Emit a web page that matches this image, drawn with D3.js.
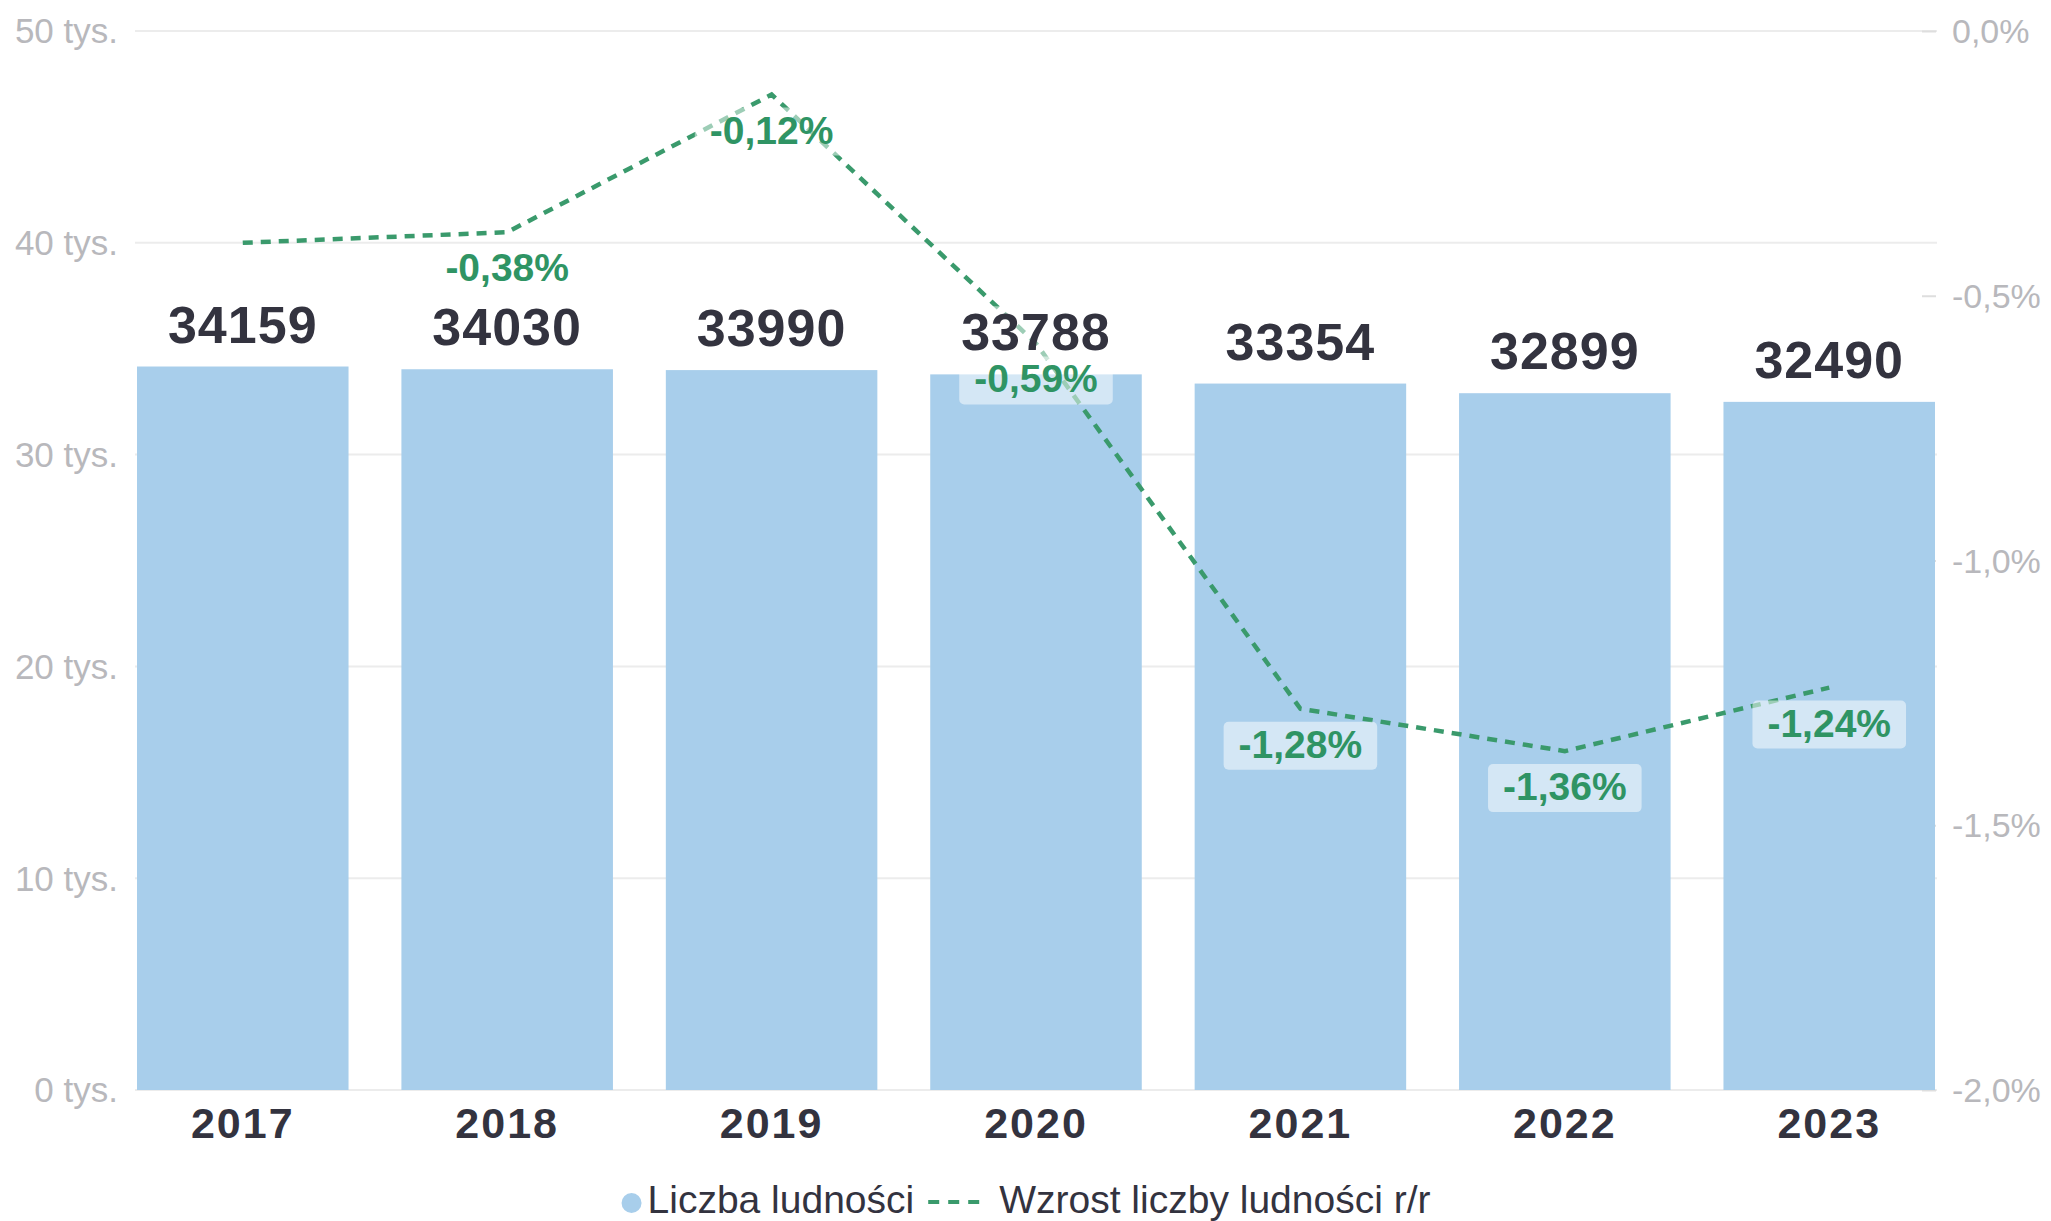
<!DOCTYPE html>
<html>
<head>
<meta charset="utf-8">
<script src="https://cdn.jsdelivr.net/npm/d3@7"></script>
<style>
  html, body { margin: 0; padding: 0; background: #ffffff; }
  svg { display: block; font-family: "Liberation Sans", Arial, sans-serif; }
</style>
</head>
<body>
<svg id="chart" width="2051" height="1221"></svg>
<script>
const years = ['2017', '2018', '2019', '2020', '2021', '2022', '2023'];
const population = [34159, 34030, 33990, 33788, 33354, 32899, 32490];
const growth = [-0.40, -0.38, -0.12, -0.59, -1.28, -1.36, -1.24];
const growthLabels = [null, '-0,38%', '-0,12%', '-0,59%', '-1,28%', '-1,36%', '-1,24%'];
const leftTicks = [0, 10000, 20000, 30000, 40000, 50000];
const leftTickLabels = ['0 tys.', '10 tys.', '20 tys.', '30 tys.', '40 tys.', '50 tys.'];
const rightTicks = [0, -0.5, -1.0, -1.5, -2.0];
const rightTickLabels = ['0,0%', '-0,5%', '-1,0%', '-1,5%', '-2,0%'];
const legendNames = ['Liczba ludności', 'Wzrost liczby ludności r/r'];

const svg = d3.select('#chart');
const plotLeft = 137, plotRight = 1935, plotTop = 31, plotBottom = 1090;

const x = d3.scaleBand().domain(years).range([plotLeft, plotRight]).paddingInner(0.2).paddingOuter(0);
const yL = d3.scaleLinear().domain([0, 50000]).range([plotBottom, plotTop]);
const yR = d3.scaleLinear().domain([-2, 0]).range([plotBottom, plotTop]);

const barColor = '#a8ceeb';
const lineColor = '#3a9a6c';
const labelGreen = '#2f9464';
const darkText = '#33333f';
const tickGray = '#b8b8bc';

// gridlines
svg.append('g').selectAll('line').data(leftTicks).join('line')
  .attr('x1', 135).attr('x2', 1937)
  .attr('y1', d => yL(d)).attr('y2', d => yL(d))
  .attr('stroke', '#ececec').attr('stroke-width', 2);

// left axis
const gL = svg.append('g').attr('transform', 'translate(118,0)')
  .call(d3.axisLeft(yL).tickValues(leftTicks).tickFormat((d, i) => leftTickLabels[i]).tickSize(0).tickPadding(0));
gL.select('.domain').remove();
gL.selectAll('text').attr('font-size', 35).attr('fill', tickGray).attr('font-family', '"Liberation Sans", Arial, sans-serif').attr('dy', '0.34em');

// right axis
const gR = svg.append('g').attr('transform', 'translate(1936,0)')
  .call(d3.axisRight(yR).tickValues(rightTicks).tickFormat((d, i) => rightTickLabels[i]).tickSizeInner(-14).tickSizeOuter(0).tickPadding(16));
gR.select('.domain').remove();
gR.selectAll('line').attr('stroke', '#dedede').attr('stroke-width', 2);
gR.selectAll('text').attr('font-size', 34).attr('fill', tickGray).attr('font-family', '"Liberation Sans", Arial, sans-serif').attr('dy', '0.34em');

// bars
svg.append('g').selectAll('rect').data(population).join('rect')
  .attr('x', (d, i) => x(years[i]))
  .attr('y', d => yL(d))
  .attr('width', x.bandwidth())
  .attr('height', d => yL(0) - yL(d))
  .attr('fill', barColor);

// x axis
const gX = svg.append('g').attr('transform', `translate(0,${plotBottom})`)
  .call(d3.axisBottom(x).tickSize(0).tickPadding(17));
gX.select('.domain').remove();
gX.selectAll('text').attr('font-size', 43).attr('font-weight', 'bold').attr('fill', darkText)
  .attr('letter-spacing', '2px')
  .attr('font-family', '"Liberation Sans", Arial, sans-serif');

// line
const line = d3.line()
  .x((d, i) => x(years[i]) + x.bandwidth() / 2)
  .y(d => yR(d));
svg.append('path').datum(growth)
  .attr('d', line)
  .attr('fill', 'none')
  .attr('stroke', lineColor)
  .attr('stroke-width', 4.5)
  .attr('stroke-dasharray', '10,8');

// population labels with semi-transparent backgrounds
const popLabels = svg.append('g');
population.forEach((v, i) => {
  const cx = x(years[i]) + x.bandwidth() / 2;
  const base = yL(v) - 24;
  const g = popLabels.append('g');
  const rect = g.append('rect');
  const t = g.append('text')
    .attr('x', cx).attr('y', base)
    .attr('text-anchor', 'middle')
    .attr('font-size', 52).attr('font-weight', 'bold')
    .attr('letter-spacing', '1px')
    .attr('fill', darkText)
    .text(String(v));
  const w = t.node().getComputedTextLength();
  rect.attr('x', cx - w / 2 - 10).attr('y', base - 44).attr('width', w + 20).attr('height', 54)
    .attr('rx', 4).attr('fill', 'rgba(255,255,255,0.5)');
});

// growth labels
const grLabels = svg.append('g');
growth.forEach((v, i) => {
  if (!growthLabels[i]) return;
  const cx = x(years[i]) + x.bandwidth() / 2;
  const base = yR(v) + 49;
  const g = grLabels.append('g');
  const rect = g.append('rect');
  const t = g.append('text')
    .attr('x', cx).attr('y', base)
    .attr('text-anchor', 'middle')
    .attr('font-size', 39).attr('font-weight', 'bold')
    .attr('fill', labelGreen)
    .text(growthLabels[i]);
  const w = t.node().getComputedTextLength();
  rect.attr('x', cx - w / 2 - 15).attr('y', base - 36).attr('width', w + 30).attr('height', 48)
    .attr('rx', 5).attr('fill', 'rgba(255,255,255,0.5)');
});

// legend
const legend = svg.append('g');
const legY = 1213;
const item1 = legend.append('g');
item1.append('circle').attr('cx', 10).attr('cy', -10).attr('r', 10).attr('fill', barColor);
const t1 = item1.append('text').attr('x', 26).attr('y', 0).attr('font-size', 39).attr('fill', darkText).text(legendNames[0]);
const w1 = 26 + t1.node().getComputedTextLength();
const item2 = legend.append('g').attr('transform', `translate(${w1 + 14},0)`);
item2.append('line').attr('x1', 0).attr('x2', 55).attr('y1', -11).attr('y2', -11)
  .attr('stroke', lineColor).attr('stroke-width', 4).attr('stroke-dasharray', '11,9');
const t2 = item2.append('text').attr('x', 71).attr('y', 0).attr('font-size', 39).attr('fill', darkText).text(legendNames[1]);
const totalW = w1 + 14 + 71 + t2.node().getComputedTextLength();
legend.attr('transform', `translate(${1026 - totalW / 2},${legY})`);
</script>
</body>
</html>
